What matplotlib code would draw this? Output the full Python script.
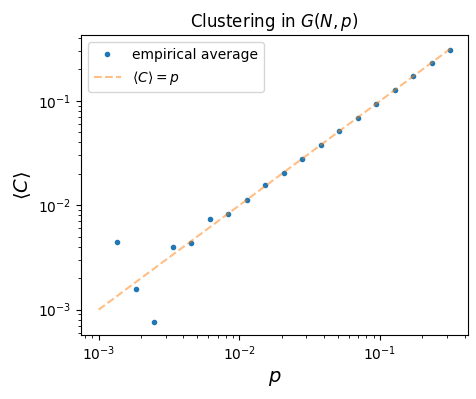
import numpy as np
import matplotlib
matplotlib.use("Agg")
import matplotlib.pyplot as plt

# edge probabilities and measured mean clustering
p_vals = [1.354e-3, 1.833e-3, 2.48e-3, 3.36e-3, 4.55e-3, 6.16e-3, 8.34e-3,
          0.0113, 0.0153, 0.0207, 0.028, 0.038, 0.0514, 0.0696, 0.0942,
          0.1276, 0.1727, 0.2338, 0.316]
c_avg = [4.45e-3, 1.58e-3, 7.7e-4, 4.0e-3, 4.35e-3, 7.36e-3, 8.2e-3,
         1.12e-2, 1.55e-2, 2.02e-2, 2.75e-2, 3.8e-2, 5.15e-2, 6.9e-2,
         0.094, 0.127, 0.172, 0.23, 0.31]
p_line = [1e-3, 0.316]

fig, ax = plt.subplots(figsize=(4.77, 3.99))
fig.subplots_adjust(left=0.17, right=0.981, top=0.912, bottom=0.16)
ax.plot(p_vals, c_avg, ".", label="empirical average")
ax.plot(p_line, p_line, "--", color="C1", alpha=0.5, label=r"$\langle C\rangle = p$")
ax.set_xscale("log"); ax.set_yscale("log")
ax.set_xlabel("$p$", fontsize=14)
ax.set_ylabel(r"$\langle C\rangle$", fontsize=14)
ax.set_title("Clustering in $G(N,p)$")
ax.legend(loc="upper left")
fig.savefig("out.png", dpi=100)
